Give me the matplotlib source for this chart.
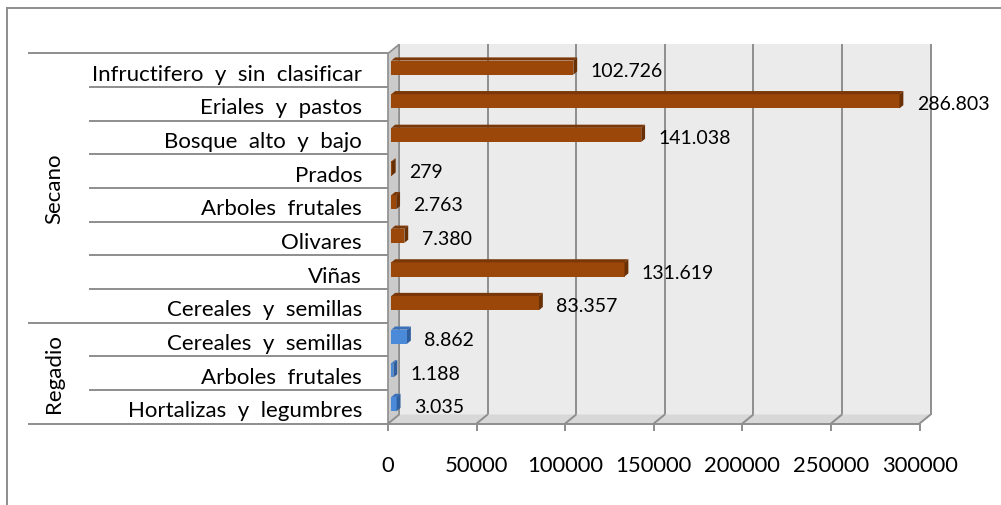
import numpy as np
import matplotlib
matplotlib.use("Agg")
import matplotlib.pyplot as plt
from matplotlib.patches import Polygon
from matplotlib.lines import Line2D
from matplotlib.transforms import IdentityTransform

plt.rcParams['font.family'] = ['Lato', 'DejaVu Sans']

# datos (de abajo hacia arriba)
regadio_cats = ["Hortalizas y legumbres", "Arboles frutales", "Cereales y semillas"]
regadio_vals = [3035, 1188, 8862]
secano_cats = ["Cereales y semillas", "Viñas", "Olivares", "Arboles frutales",
               "Prados", "Bosque alto y bajo", "Eriales y pastos",
               "Infructifero y sin clasificar"]
secano_vals = [83357, 131619, 7380, 2763, 279, 141038, 286803, 102726]
groups = ["Regadio", "Secano"]
x_ticks = [0, 50000, 100000, 150000, 200000, 250000, 300000]

cats = regadio_cats + secano_cats
vals = regadio_vals + secano_vals
n_reg = len(regadio_cats)
n = len(cats)

GRID = '#8e8e8e'
WALL = '#ebebeb'
SIDE = '#cbcbcb'
FLOOR = '#d8d8d8'
ORANGE = ('#9b470a', '#7a3808', '#6a3005')   # frente, arriba, lado
BLUE = ('#4a8ad8', '#3a70b8', '#2f5f9e')

W, H = 1001, 506
fig = plt.figure(figsize=(W / 100, H / 100), dpi=100)
ax = fig.add_axes([388 / W, (H - 424.5) / H, 531.6 / W, 370 / H])
ax.set_xlim(0, x_ticks[-1])
ax.set_ylim(0, n)
ax.axis('off')

DEPTH = np.array([11.0, 9.0])  # desplazamiento 3D en pixeles


def P(x, y, d=0.0):
    return ax.transData.transform((x, y)) + d * DEPTH


def poly(pts, color, z, ec='none', lw=0):
    fig.add_artist(Polygon(np.array(pts), closed=True, facecolor=color,
                           edgecolor=ec, linewidth=lw, zorder=z,
                           transform=IdentityTransform()))


def line(p0, p1, z, color=GRID, lw=1.4):
    fig.add_artist(Line2D([p0[0], p1[0]], [p0[1], p1[1]], color=color,
                          linewidth=lw, zorder=z, transform=IdentityTransform(),
                          solid_capstyle='butt'))


xmax = x_ticks[-1]
# pared del fondo
poly([P(0, 0, 1), P(xmax, 0, 1), P(xmax, n, 1), P(0, n, 1)], WALL, -6)
for t in x_ticks:
    line(P(t, 0, 1), P(t, n, 1), -5)
# suelo
poly([P(0, 0, 0), P(xmax, 0, 0), P(xmax, 0, 1), P(0, 0, 1)], FLOOR, -5)
line(P(0, 0, 0), P(xmax, 0, 0), -4)
for t in x_ticks:
    line(P(t, 0, 0), P(t, 0, 1), -4)
    line(P(t, 0, 0), P(t, 0, 0) - np.array([0, 7]), -4)
# pared izquierda
poly([P(0, 0, 0), P(0, n, 0), P(0, n, 1), P(0, 0, 1)], SIDE, -4, ec=GRID, lw=1.2)

# barras 3D
d0, d1, h = 0.3, 0.65, 0.21
for i, v in enumerate(vals):
    front, top, side = BLUE if i < n_reg else ORANGE
    y = i + 0.5
    poly([P(0, y - h, d0), P(v, y - h, d0), P(v, y + h, d0), P(0, y + h, d0)], front, -2)
    poly([P(0, y + h, d0), P(v, y + h, d0), P(v, y + h, d1), P(0, y + h, d1)], top, -2)
    poly([P(v, y - h, d0), P(v, y - h, d1), P(v, y + h, d1), P(v, y + h, d0)], side, -2)
    label = f"{v:,}".replace(",", ".")
    ax.annotate(label, xy=(v, y), xytext=(20.5, 0), textcoords='offset pixels',
                ha='left', va='center', fontsize=14, color='black',
                annotation_clip=False)

# etiquetas de categoria (espaciado ancho como en Excel) y lineas separadoras
for i, c in enumerate(cats):
    ax.annotate("  ".join(c.split()), xy=(0, i + 0.5), xytext=(-26, -3.5),
                textcoords='offset pixels', ha='right', va='center',
                fontsize=16, annotation_clip=False)
for b in range(n + 1):
    start = 360 if b in (0, n_reg, n) else 299
    p = P(0, b)
    line(p - np.array([start, 0]), p, -2)

# etiquetas de grupo
ax.annotate(groups[0], xy=(0, n_reg / 2), xytext=(-334, 0), textcoords='offset pixels',
            rotation=90, ha='center', va='center', fontsize=16, annotation_clip=False)
ax.annotate(groups[1], xy=(0, (n_reg + n) / 2), xytext=(-334, 0), textcoords='offset pixels',
            rotation=90, ha='center', va='center', fontsize=16, annotation_clip=False)

# etiquetas del eje x
for t in x_ticks:
    ax.annotate(str(t), xy=(t, 0), xytext=(0, -41.5), textcoords='offset pixels',
                ha='center', va='center', fontsize=15.8, annotation_clip=False)

# marco exterior
fig.add_artist(Line2D([6.5 / W, 6.5 / W], [0, 1 - 9 / H], color=GRID, linewidth=1.4))
fig.add_artist(Line2D([6.5 / W, 1], [1 - 9 / H, 1 - 9 / H], color=GRID, linewidth=1.4))

fig.savefig("out.png", dpi=100)
